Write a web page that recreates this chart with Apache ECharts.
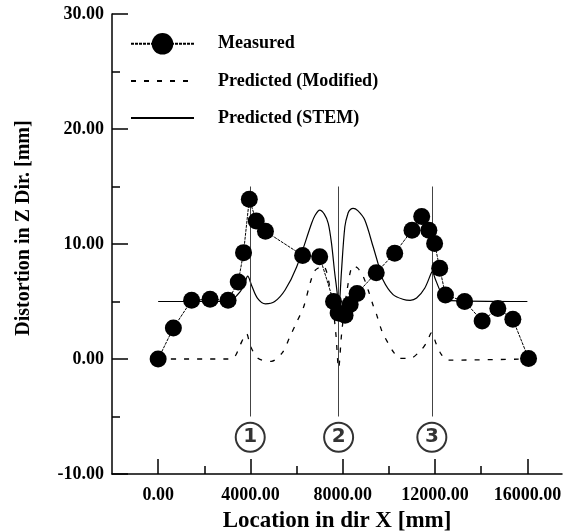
<!DOCTYPE html>
<html>
<head>
<meta charset="utf-8">
<script src="https://cdn.jsdelivr.net/npm/echarts@6/dist/echarts.min.js"></script>
<style>
  html, body { margin: 0; padding: 0; background: #fff; }
  #chart { width: 574px; height: 531px; }
</style>
</head>
<body>
<div id="chart"></div>
<script>
// Measured points (x in mm, distortion in mm)
const measuredX = [0, 660, 1450, 2250, 3030, 3470, 3700, 3950, 4250, 4650, 6260, 7000, 7600, 7800, 8100, 8320, 8620, 9450, 10250, 11000, 11420, 11730, 11980, 12200, 12450, 13280, 14040, 14720, 15370, 16050];
const measuredY = [0, 2.7, 5.1, 5.2, 5.1, 6.7, 9.25, 13.9, 12.0, 11.1, 9.0, 8.9, 5.0, 4.0, 3.8, 4.75, 5.7, 7.5, 9.2, 11.2, 12.4, 11.2, 10.05, 7.9, 5.57, 5.0, 3.3, 4.4, 3.45, 0.05];

// Predicted (STEM), solid line
const stemX = [0, 3000, 3400, 3700, 3880, 4050, 4300, 4650, 5050, 5500, 6000, 6650, 6800, 7000, 7200, 7370, 7510, 7650, 7760, 7820, 7880, 7940, 8090, 8230, 8330, 8450, 8650, 8950, 9310, 9530, 9740, 10180, 10600, 10920, 11200, 11550, 11830, 11880, 12000, 12200, 12400, 16000];
const stemY = [5, 5, 5.5, 6.3, 7.2, 6.4, 5.3, 4.8, 5.0, 6.0, 8.0, 11.8, 12.5, 12.95, 12.6, 11.8, 10.1, 7.5, 5.7, 4.2, 5.5, 7.5, 11.5, 12.7, 13.0, 13.1, 12.9, 12.1, 9.8, 8.3, 6.9, 5.6, 5.2, 5.1, 5.3, 6.15, 7.45, 7.6, 7.0, 6.0, 5.1, 5.0];

// Predicted (Modified), dashed line
const modX = [0, 3100, 3350, 3550, 3830, 4000, 4340, 4900, 5400, 5700, 6000, 6300, 6600, 6800, 7150, 7500, 7700, 7820, 7950, 8150, 8450, 8650, 8880, 9100, 9310, 9460, 9700, 9960, 10200, 10460, 10900, 11400, 11650, 11850, 12050, 12270, 12550, 16000];
const modY = [0, 0, 0.3, 1.2, 2.2, 1.1, 0.05, -0.2, 0.6, 1.9, 3.2, 4.5, 6.7, 7.7, 8.1, 5.5, 2.2, -0.8, 2.2, 5.5, 8.1, 7.9, 7.2, 6.0, 4.7, 3.9, 2.4, 1.4, 0.6, 0.05, 0.05, 0.8, 1.5, 2.3, 1.3, 0.4, -0.1, 0];

// Section marks
const sectionX = [3990, 7820, 11860];
const sectionLabels = ['1', '2', '3'];
const sectionTop = 15;
const sectionBottom = -5;
const sectionLabelY = -6.8;

// Axis ticks
const xMajorTicks = [0, 4000, 8000, 12000, 16000];
const xMinorTicks = [2000, 6000, 10000, 14000];

const zip = (xs, ys) => xs.map((x, i) => [x, ys[i]]);

const serif = '"Liberation Serif", "Times New Roman", serif';
const chart = echarts.init(document.getElementById('chart'));

chart.setOption({
  animation: false,
  backgroundColor: '#fff',
  // v6 would otherwise shrink the grid to fit the axis names
  grid: { left: 112, right: 12, top: 14, bottom: 57, outerBoundsMode: 'none' },
  legend: {
    orient: 'vertical',
    left: 130,
    top: 33,
    padding: 0,
    itemWidth: 63,
    itemHeight: 27,
    itemGap: 15.5,
    data: [
      { name: 'Measured' },
      { name: 'Predicted (Modified)', itemStyle: { opacity: 0 } },
      { name: 'Predicted (STEM)', itemStyle: { opacity: 0 } }
    ],
    textStyle: { fontFamily: serif, fontWeight: 'bold', fontSize: 18, color: '#000', padding: [0, 0, 0, 19] }
  },
  xAxis: [
    {
      type: 'value',
      min: -2000,
      max: 17500,
      name: 'Location in dir X [mm]',
      nameLocation: 'middle',
      nameGap: 36,
      nameTextStyle: { fontFamily: serif, fontWeight: 'bold', fontSize: 23, color: '#000' },
      axisLine: { onZero: false, lineStyle: { color: '#000', width: 1.5 } },
      axisTick: { inside: true, length: 15, customValues: xMajorTicks, lineStyle: { color: '#000', width: 1.5 } },
      axisLabel: {
        customValues: xMajorTicks,
        margin: 12,
        fontFamily: serif, fontWeight: 'bold', fontSize: 18, color: '#000',
        formatter: v => v.toFixed(2)
      },
      splitLine: { show: false }
    },
    {
      type: 'value',
      position: 'bottom',
      min: -2000,
      max: 17500,
      axisLine: { show: false, onZero: false },
      axisTick: { inside: true, length: 8, customValues: xMinorTicks, lineStyle: { color: '#000', width: 1.5 } },
      axisLabel: { show: false },
      splitLine: { show: false }
    }
  ],
  yAxis: {
    type: 'value',
    min: -10,
    max: 30,
    interval: 10,
    name: 'Distortion in Z Dir. [mm]',
    nameLocation: 'middle',
    nameRotate: 90,
    nameGap: 78,
    nameTextStyle: { fontFamily: serif, fontWeight: 'bold', fontSize: 20, color: '#000', padding: [0, 0, 0, 32] },
    axisLine: { show: true, onZero: false, lineStyle: { color: '#000', width: 1.5 } },
    axisTick: { inside: true, length: 16, lineStyle: { color: '#000', width: 1.5 } },
    minorTick: { show: true, splitNumber: 2, length: 8, lineStyle: { color: '#000', width: 1.5 } },
    axisLabel: {
      margin: 8,
      fontFamily: serif, fontWeight: 'bold', fontSize: 18, color: '#000',
      formatter: v => v.toFixed(2)
    },
    splitLine: { show: false }
  },
  series: [
    {
      name: 'Predicted (STEM)',
      type: 'line',
      data: zip(stemX, stemY),
      showSymbol: false,
      symbol: 'none',
      smooth: 0.3,
      lineStyle: { color: '#000', width: 1.2 },
      itemStyle: { color: '#000' },
      markLine: {
        silent: true,
        symbol: 'none',
        label: { show: false },
        lineStyle: { color: '#444', width: 1, type: 'solid' },
        data: sectionX.map(x => [{ coord: [x, sectionBottom] }, { coord: [x, sectionTop] }])
      },
      z: 3
    },
    {
      name: 'Predicted (Modified)',
      type: 'line',
      data: zip(modX, modY),
      showSymbol: false,
      symbol: 'none',
      smooth: 0.3,
      lineStyle: { color: '#000', width: 1.3, type: [5, 8] },
      itemStyle: { color: '#000' },
      z: 3
    },
    {
      name: 'Measured',
      type: 'line',
      data: zip(measuredX, measuredY),
      symbol: 'circle',
      symbolSize: 17,
      lineStyle: { color: '#000', width: 1, type: [3, 1] },
      itemStyle: { color: '#000' },
      z: 5
    },
    {
      name: 'sections',
      type: 'scatter',
      data: sectionX.map((x, i) => ({ value: [x, sectionLabelY], name: sectionLabels[i] })),
      symbol: 'circle',
      symbolSize: 29,
      itemStyle: { color: '#fff', borderColor: '#000', borderWidth: 2 },
      label: {
        show: true,
        position: 'inside',
        formatter: p => p.name,
        fontFamily: '"DejaVu Sans", sans-serif',
        fontWeight: 'bold',
        fontSize: 20,
        color: '#000'
      },
      z: 4
    }
  ]
});
</script>
</body>
</html>
